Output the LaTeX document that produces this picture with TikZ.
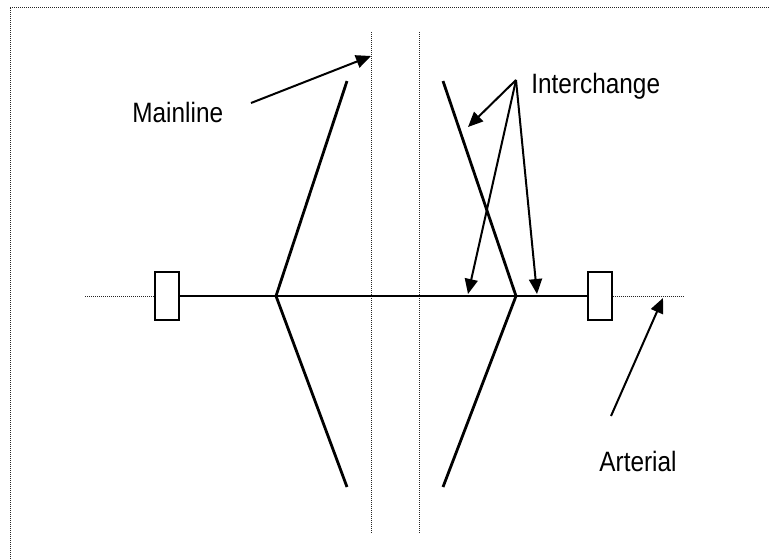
\documentclass[tikz,border=0pt]{standalone}
\usepackage{fontspec}
\setmainfont{Liberation Sans}[FakeStretch=0.87]
\usetikzlibrary{arrows.meta,positioning}

\begin{document}
\begin{tikzpicture}[x=0.5pt, y=-0.5pt,
    road/.style={line width=1.4pt, black},
    guide/.style={line width=0.5pt, dash pattern=on 0.5pt off 0.5pt, black!85},
    rampbox/.style={rectangle, draw, line width=1pt, fill=white,
        minimum width=12pt, minimum height=24pt, inner sep=0pt},
    lbl/.style={font=\fontsize{14}{16}\selectfont, inner sep=0pt},
    arr/.style={-{Triangle[length=7.5pt,width=6.5pt]}, line width=1pt}
]
    \useasboundingbox (0,0) rectangle (770,559);

    % Page frame
    \draw[guide] (10,559) -- (10,7) -- (770,7);

    % Mainline edges
    \coordinate (mlWtop) at (371,32);
    \coordinate (mlWbot) at (371,534);
    \coordinate (mlEtop) at (419,32);
    \coordinate (mlEbot) at (419,534);
    \draw[guide] (mlWtop) -- (mlWbot);
    \draw[guide] (mlEtop) -- (mlEbot);

    % Arterial with ramp terminals
    \node[rampbox] (westbox) at (167,296) {};
    \node[rampbox] (eastbox) at (599.5,296) {};
    \coordinate (artW) at (85,296);
    \coordinate (artE) at (683,296);
    \draw[guide] (artW) -- (westbox.west);
    \draw[guide] (eastbox.east) -- (artE);
    \draw[road] (westbox.east) -- (eastbox.west);

    % Interchange ramps
    \coordinate (wv) at (276,296);
    \coordinate (ev) at (516,296);
    \coordinate (wn) at (347,81);
    \coordinate (ws) at (347,487);
    \coordinate (en) at (443,81);
    \coordinate (es) at (443,487);
    \draw[road] (wn) -- (wv) -- (ws);
    \draw[road] (en) -- (ev) -- (es);

    % Labels
    \node[lbl, anchor=base west] (mainline) at (132,122) {Mainline};
    \node[lbl, anchor=base west] (interchange) at (531,93) {Interchange};
    \node[lbl, anchor=base west] (arterial) at (599,471) {Arterial};

    % Label arrows
    \coordinate (mlFrom) at (251,103);
    \coordinate (mlTip) at (371,56);
    \draw[arr] (mlFrom) -- (mlTip);

    \coordinate (icFrom) at (516,80);
    \coordinate (icTipA) at (468,127);
    \coordinate (icTipB) at (468,294);
    \coordinate (icTipC) at (537,294);
    \draw[arr] (icFrom) -- (icTipA);
    \draw[arr] (icFrom) -- (icTipB);
    \draw[arr] (icFrom) -- (icTipC);

    \coordinate (arFrom) at (611,416);
    \coordinate (arTip) at (663,298);
    \draw[arr] (arFrom) -- (arTip);
\end{tikzpicture}
\end{document}
